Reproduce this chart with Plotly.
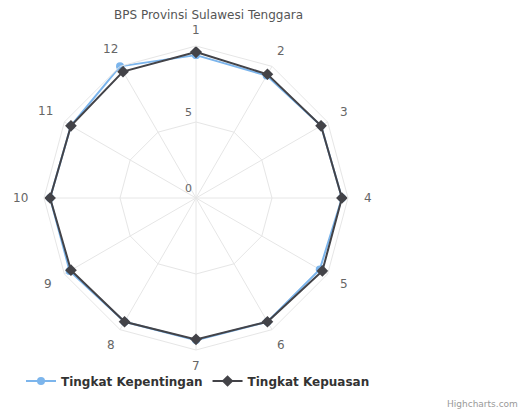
import math
import plotly.graph_objects as go

categories = ["1", "2", "3", "4", "5", "6", "7", "8", "9", "10", "11", "12"]
kepentingan = [9.4, 9.3, 9.5, 9.6, 9.4, 9.4, 9.35, 9.4, 9.6, 9.6, 9.5, 10.0]
kepuasan = [9.6, 9.4, 9.5, 9.6, 9.6, 9.4, 9.3, 9.4, 9.5, 9.6, 9.5, 9.6]
radial_ticks = [0, 5]
radial_max = 10
title_text = "BPS Provinsi Sulawesi Tenggara"

# page body has an 8px default margin; work in figure coordinates
OFF = 8
W, H = 526 - OFF, 412 - OFF
cx, cy, R = 196 - OFF, 198 - OFF, 152

def closed(v):
    return list(v) + [v[0]]

def px(x, y):
    return x / W, (H - y) / H

fig = go.Figure()
fig.add_trace(go.Scatterpolar(
    r=closed(kepentingan), theta=closed(categories), name="<b>Tingkat Kepentingan</b>",
    mode="lines+markers",
    line=dict(color="#7cb5ec", width=2),
    marker=dict(symbol="circle", size=8, color="#7cb5ec"),
))
fig.add_trace(go.Scatterpolar(
    r=closed(kepuasan), theta=closed(categories), name="<b>Tingkat Kepuasan</b>",
    mode="lines+markers",
    line=dict(color="#434348", width=2),
    marker=dict(symbol="diamond", size=9, color="#434348"),
))

annotations = []
# angular category labels, placed Highcharts-style just outside the grid
n = len(categories)
for i, lab in enumerate(categories):
    a = 2 * math.pi * i / n
    r = 168 + 3.6 * len(lab) * abs(math.sin(a))
    x, y = px(cx + r * math.sin(a), cy - r * math.cos(a))
    annotations.append(dict(text=lab, x=x, y=y, xref="paper", yref="paper",
                            xanchor="center", yanchor="middle", showarrow=False,
                            font=dict(size=12, color="#666666")))
# radial tick labels, left of the vertical spoke and above each ring
for t in radial_ticks:
    x, y = px(cx - 2, cy - R * t / radial_max - 1)
    annotations.append(dict(text=str(t), x=x, y=y, xref="paper", yref="paper",
                            xanchor="right", yanchor="bottom", showarrow=False,
                            font=dict(size=11, color="#666666")))
tx, ty = px(208 - OFF, 15 - OFF)
annotations.append(dict(text=title_text, x=tx, y=ty, xref="paper", yref="paper",
                        xanchor="center", yanchor="middle", showarrow=False,
                        font=dict(size=12, color="#555555")))
hx, hy = px(520 - OFF, 404 - OFF)
annotations.append(dict(text="Highcharts.com", x=hx, y=hy, xref="paper", yref="paper",
                        xanchor="right", yanchor="middle", showarrow=False,
                        font=dict(size=9, color="#999999")))

fig.update_layout(
    width=W, height=H,
    margin=dict(l=0, r=0, t=0, b=0),
    paper_bgcolor="white",
    font=dict(family="DejaVu Sans", color="#666666"),
    showlegend=True,
    polar=dict(
        domain=dict(x=[(cx - R) / W, (cx + R) / W], y=[(H - cy - R) / H, (H - cy + R) / H]),
        gridshape="linear",
        bgcolor="white",
        radialaxis=dict(
            range=[0, radial_max], tickvals=[0, 5, 10], showticklabels=False,
            angle=90, showline=False, ticks="",
            gridcolor="#e6e6e6", gridwidth=1,
        ),
        angularaxis=dict(
            direction="clockwise", rotation=90, type="category",
            categoryarray=categories, showticklabels=False,
            gridcolor="#e6e6e6", linecolor="#e6e6e6", showline=True, ticks="",
        ),
    ),
    legend=dict(
        orientation="h", x=(198 - OFF) / W, xanchor="center", y=(H - (381 - OFF)) / H, yanchor="middle",
        font=dict(size=12, color="#333333", family="DejaVu Sans"),
        itemwidth=30,
    ),
    annotations=annotations,
)

fig.write_html("out.html")
